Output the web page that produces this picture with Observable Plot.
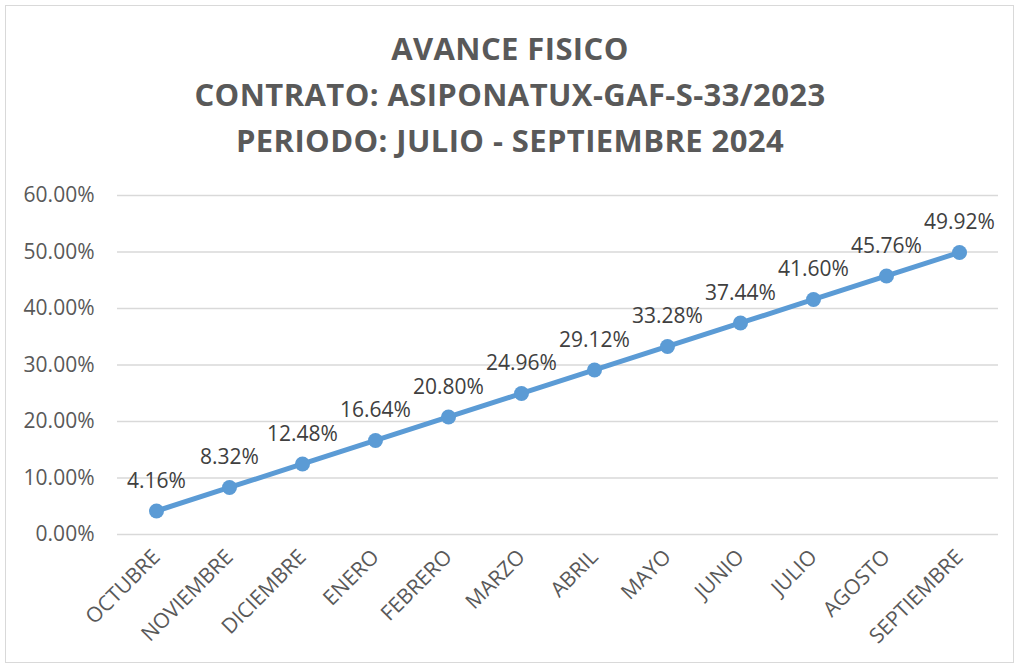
<!DOCTYPE html>
<html>
<head>
<meta charset="utf-8">
<script src="https://cdn.jsdelivr.net/npm/d3@7"></script>
<script src="https://cdn.jsdelivr.net/npm/@observablehq/plot@0.6"></script>
<style>
  html, body { margin: 0; padding: 0; background: #fff; }
  #frame { position: absolute; left: 5px; top: 5px; width: 1009px; height: 658px; border: 1.5px solid #D9D9D9; box-sizing: border-box; }
  #title { position: absolute; left: 0; top: 25px; width: 1020px; text-align: center; font-family: "Open Sans", sans-serif; font-weight: 700; font-size: 31px; letter-spacing: 0.4px; line-height: 46px; color: #595959; }
  #chart { position: absolute; left: 0; top: 170px; }
</style>
</head>
<body>
<div id="frame"></div>
<div id="title">AVANCE FISICO<br>CONTRATO: ASIPONATUX-GAF-S-33/2023<br>PERIODO: JULIO - SEPTIEMBRE 2024</div>
<div id="chart"></div>
<script>
const months = ["OCTUBRE","NOVIEMBRE","DICIEMBRE","ENERO","FEBRERO","MARZO","ABRIL","MAYO","JUNIO","JULIO","AGOSTO","SEPTIEMBRE"];
const values = [0.0416,0.0832,0.1248,0.1664,0.2080,0.2496,0.2912,0.3328,0.3744,0.4160,0.4576,0.4992];
const yTicks = [0,0.1,0.2,0.3,0.4,0.5,0.6];

const data = months.map((m, i) => ({month: m, value: values[i]}));
const pct = d3.format(".2%");

const plot = Plot.plot({
  width: 1020,
  height: 494,
  marginTop: 25,
  marginBottom: 130,
  marginLeft: 117,
  marginRight: 22,
  style: {fontFamily: "'Open Sans', sans-serif", fontSize: "21px", color: "#595959", background: "transparent"},
  x: {type: "point", domain: months, padding: 0.5, label: null},
  y: {domain: [0, 0.6], label: null},
  marks: [
    Plot.gridY(yTicks, {stroke: "#D9D9D9", strokeOpacity: 1, strokeWidth: 1.5}),
    Plot.axisY(yTicks, {tickSize: 0, tickPadding: 23, tickFormat: pct, fontSize: 21, fill: "#595959"}),
    Plot.axisX({tickSize: 0, tickPadding: 19, tickRotate: -45, fontSize: 21, fill: "#595959"}),
    Plot.line(data, {x: "month", y: "value", stroke: "#5B9BD5", strokeWidth: 5}),
    Plot.dot(data, {x: "month", y: "value", r: 7.5, fill: "#5B9BD5", stroke: "none"}),
    Plot.text(data, {x: "month", y: "value", text: d => pct(d.value), dy: -30, fontSize: 21, fill: "#404040", lineAnchor: "middle"})
  ]
});
document.getElementById("chart").appendChild(plot);
</script>
</body>
</html>
